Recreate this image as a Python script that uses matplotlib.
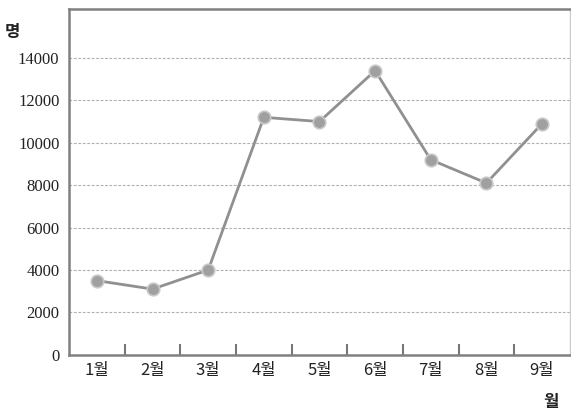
import matplotlib
matplotlib.use("Agg")
import matplotlib.pyplot as plt
from matplotlib.ticker import FixedLocator

months = ["1월", "2월", "3월", "4월", "5월", "6월", "7월", "8월", "9월"]
visitors = [3500, 3100, 4000, 11200, 11000, 13400, 9200, 8100, 10900]
yticks = [0, 2000, 4000, 6000, 8000, 10000, 12000, 14000]

fig = plt.figure(figsize=(5.71, 4.16), dpi=100)
ax = fig.add_axes([0.121, 0.147, 0.877, 0.831])

x = list(range(len(months)))
ax.plot(x, visitors, color="#909090", lw=2, zorder=3)
ax.plot(x, visitors, ls="none", marker="o", ms=9, mfc="#a0a0a0",
        mec="#c8c8c8", mew=1.2, zorder=4)

ax.set_xlim(-0.5, len(months) - 0.5)
ax.set_ylim(0, 16300)

kfont = ["Noto Sans CJK KR", "DejaVu Sans"]
ax.set_xticks(x)
ax.set_xticklabels(months, family=kfont, fontsize=12, weight="medium", color="#222222")
ax.xaxis.set_minor_locator(FixedLocator([i + 0.5 for i in range(len(months) - 1)]))
ax.tick_params(axis="x", which="major", length=0, pad=5)
ax.tick_params(axis="x", which="minor", direction="in", length=8, width=1.5, color="#777777")

ax.set_yticks(yticks)
ax.set_yticklabels([str(v) for v in yticks], family="Liberation Serif", fontsize=12, color="#222222")
ax.tick_params(axis="y", length=0, pad=7)

for v in yticks[1:]:
    ax.axhline(v, color="#b0b0b0", lw=0.8, ls=(0, (2.5, 1.5)), zorder=1)

for side in ["left", "bottom", "top"]:
    ax.spines[side].set_color("#808080")
    ax.spines[side].set_linewidth(1.8)
ax.spines["right"].set_color("#cccccc")
ax.spines["right"].set_linewidth(1.0)

fig.text(12 / 571, 1 - 32 / 416, "명", family=kfont, weight="bold",
         fontsize=12, ha="center", va="center", color="#222222")
fig.text(551 / 571, 1 - 402 / 416, "월", family=kfont, weight="bold",
         fontsize=12, ha="center", va="center", color="#222222")

fig.savefig("out.png", dpi=100)
